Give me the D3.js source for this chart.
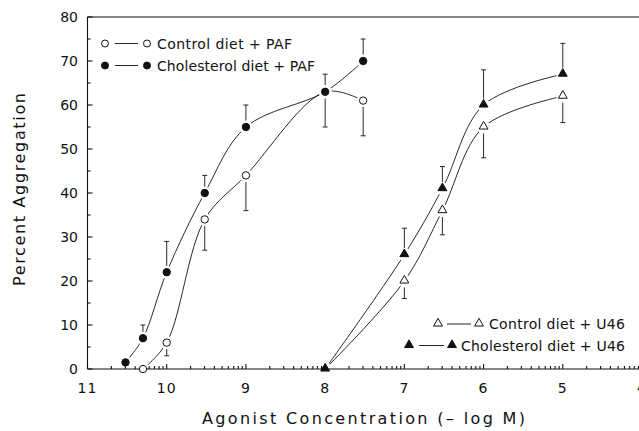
<!DOCTYPE html>
<html>
<head>
<meta charset="utf-8">
<script src="https://d3js.org/d3.v7.min.js"></script>
<style>
  html, body { margin: 0; padding: 0; background: #fff; }
  svg { display: block; }
  text { font-family: "DejaVu Sans", "Liberation Sans", sans-serif; fill: #111; }
</style>
</head>
<body>
<svg id="chart" width="639" height="431"></svg>
<script>
// ---- Data (x = agonist concentration, -log M) ----
const pafControlX = [10.3, 10, 9.52, 9, 8, 7.52];
const pafControlY = [0, 6, 34, 44, 63, 61];
const pafControlErr = [0, 3, 7, 8, 8, 8];        // drawn downward

const pafCholX = [10.52, 10.3, 10, 9.52, 9, 8, 7.52];
const pafCholY = [1.5, 7, 22, 40, 55, 63, 70];
const pafCholErr = [0, 3, 7, 4, 5, 4, 5];          // drawn upward

const u46X = [8, 7, 6.52, 6, 5];
const u46ControlY = [0, 20, 36, 55, 62];
const u46ControlErr = [0, 4, 5.5, 7, 6];          // drawn downward
const u46CholY = [0, 26, 41, 60, 67];
const u46CholErr = [0, 6, 5, 8, 7];               // drawn upward

const xTicks = [11, 10, 9, 8, 7, 6, 5, 4];
const yTicks = [0, 10, 20, 30, 40, 50, 60, 70, 80];

const legendPAF = ["Control diet + PAF", "Cholesterol diet + PAF"];
const legendU46 = ["Control diet + U46", "Cholesterol diet + U46"];
const xTitle = "Agonist Concentration (\u2013 log M)";
const yTitle = "Percent Aggregation";

// ---- Layout ----
const svg = d3.select("#chart");
const x = d3.scaleLinear().domain([11, 4]).range([87.5, 642]);
const y = d3.scaleLinear().domain([0, 80]).range([369, 17]);

const ink = "#111";
const lineW = 0.9;

function series(xs, ys, errs) {
  return xs.map((v, i) => ({ x: v, y: ys[i], e: errs[i] }));
}
const sPafC = series(pafControlX, pafControlY, pafControlErr);
const sPafH = series(pafCholX, pafCholY, pafCholErr);
const sU46C = series(u46X, u46ControlY, u46ControlErr);
const sU46H = series(u46X, u46CholY, u46CholErr);

const line = d3.line().x(d => x(d.x)).y(d => y(d.y)).curve(d3.curveCatmullRom.alpha(0.5));

const gLines = svg.append("g");
[sPafC, sPafH, sU46C, sU46H].forEach(s => {
  gLines.append("path").attr("d", line(s))
    .attr("fill", "none").attr("stroke", ink).attr("stroke-width", lineW);
});

// Error bars
const gErr = svg.append("g").attr("stroke", ink).attr("stroke-width", lineW);
function errBars(s, dir) {
  s.filter(d => d.e > 0).forEach(d => {
    const cx = x(d.x), y0 = y(d.y), y1 = y(d.y + dir * d.e);
    gErr.append("line").attr("x1", cx).attr("x2", cx).attr("y1", y0).attr("y2", y1);
    gErr.append("line").attr("x1", cx - 2.5).attr("x2", cx + 2.5).attr("y1", y1).attr("y2", y1);
  });
}
errBars(sPafC, -1);
errBars(sPafH, 1);
errBars(sU46C, -1);
errBars(sU46H, 1);

// White halos (gap between lines and markers)
const gHalo = svg.append("g").attr("fill", "#fff");
[sPafC, sPafH, sU46C, sU46H].forEach(s => {
  s.forEach(d => {
    gHalo.append("circle").attr("cx", x(d.x)).attr("cy", y(d.y)).attr("r", 6.5);
  });
});

// ---- Axes ----
const gAx = svg.append("g").attr("stroke", ink).attr("stroke-width", 1.1).attr("fill", "none");
gAx.append("line").attr("x1", x(11)).attr("x2", 639).attr("y1", y(0)).attr("y2", y(0));
gAx.append("line").attr("x1", x(11)).attr("x2", x(11)).attr("y1", y(0)).attr("y2", y(80));
gAx.append("line").attr("x1", x(11)).attr("x2", 639).attr("y1", y(80)).attr("y2", y(80));

// y ticks (inward)
const yMinor = d3.range(5, 80, 10);
yTicks.forEach(v => gAx.append("line").attr("x1", x(11)).attr("x2", x(11) + 5).attr("y1", y(v)).attr("y2", y(v)));
yMinor.forEach(v => gAx.append("line").attr("x1", x(11)).attr("x2", x(11) + 3).attr("y1", y(v)).attr("y2", y(v)));
// x ticks (inward), with log minor ticks in each decade
xTicks.forEach(v => gAx.append("line").attr("x1", x(v)).attr("x2", x(v)).attr("y1", y(0)).attr("y2", y(0) - 5));
xTicks.slice(0, -1).forEach(v => {
  d3.range(2, 10).forEach(k => {
    const p = v - Math.log10(k);
    gAx.append("line").attr("x1", x(p)).attr("x2", x(p)).attr("y1", y(0)).attr("y2", y(0) - 3);
  });
});

svg.append("g").selectAll("text").data(yTicks).join("text")
  .attr("x", 78).attr("y", d => y(d) + 5).attr("text-anchor", "end")
  .attr("font-size", 14).text(d => d);
svg.append("g").selectAll("text").data(xTicks).join("text")
  .attr("x", d => x(d)).attr("y", 393).attr("text-anchor", "middle")
  .attr("font-size", 14).attr("letter-spacing", 1).text(d => d);

svg.append("text").attr("x", 202).attr("y", 424)
  .attr("font-size", 16).attr("textLength", 323).attr("lengthAdjust", "spacing").text(xTitle);
svg.append("text").attr("transform", "translate(25,286) rotate(-90)")
  .attr("font-size", 16).attr("textLength", 193).attr("lengthAdjust", "spacing").text(yTitle);

// ---- Markers ----
const tri = d3.symbol().type(d3.symbolTriangle).size(34);
const gM = svg.append("g").attr("stroke", ink).attr("stroke-width", 1);
function circles(s, filled) {
  s.forEach(d => gM.append("circle").attr("cx", x(d.x)).attr("cy", y(d.y)).attr("r", 3.7)
    .attr("fill", filled ? ink : "#fff"));
}
function tris(s, filled) {
  s.forEach(d => gM.append("path").attr("d", tri())
    .attr("transform", `translate(${x(d.x)},${y(d.y) - 0.5})`)
    .attr("fill", filled ? ink : "#fff"));
}
circles(sPafC.filter(d => d.x !== 8), false);
circles(sPafH, true);
tris(sU46C.filter(d => d.x !== 8), false);
tris(sU46H, true);

// ---- Legends ----
const gL = svg.append("g");
function legendRow(g, y0, m1, l1, l2, m2, tx, label, tlen, kind, filled, anchor) {
  const mk = (cx) => {
    if (kind === "c") g.append("circle").attr("cx", cx).attr("cy", y0).attr("r", 3.5)
      .attr("stroke", ink).attr("fill", filled ? ink : "#fff");
    else g.append("path").attr("d", tri()).attr("transform", `translate(${cx},${y0 - 0.5})`)
      .attr("stroke", ink).attr("fill", filled ? ink : "#fff");
  };
  mk(m1); mk(m2);
  g.append("line").attr("x1", l1).attr("x2", l2).attr("y1", y0).attr("y2", y0)
    .attr("stroke", ink).attr("stroke-width", lineW);
  g.append("text").attr("x", tx).attr("y", y0 + 5).attr("font-size", 14)
    .attr("textLength", tlen).attr("lengthAdjust", "spacing").text(label);
}
legendRow(gL, 43.5, 105, 115, 138, 147, 157, legendPAF[0], 135, "c", false);
legendRow(gL, 65.5, 105, 115, 138, 147, 157, legendPAF[1], 158, "c", true);
legendRow(gL, 324, 438, 447, 471, 479, 489, legendU46[0], 136, "t", false);
legendRow(gL, 345.5, 409, 419, 444, 452, 461, legendU46[1], 164, "t", true);
</script>
</body>
</html>
